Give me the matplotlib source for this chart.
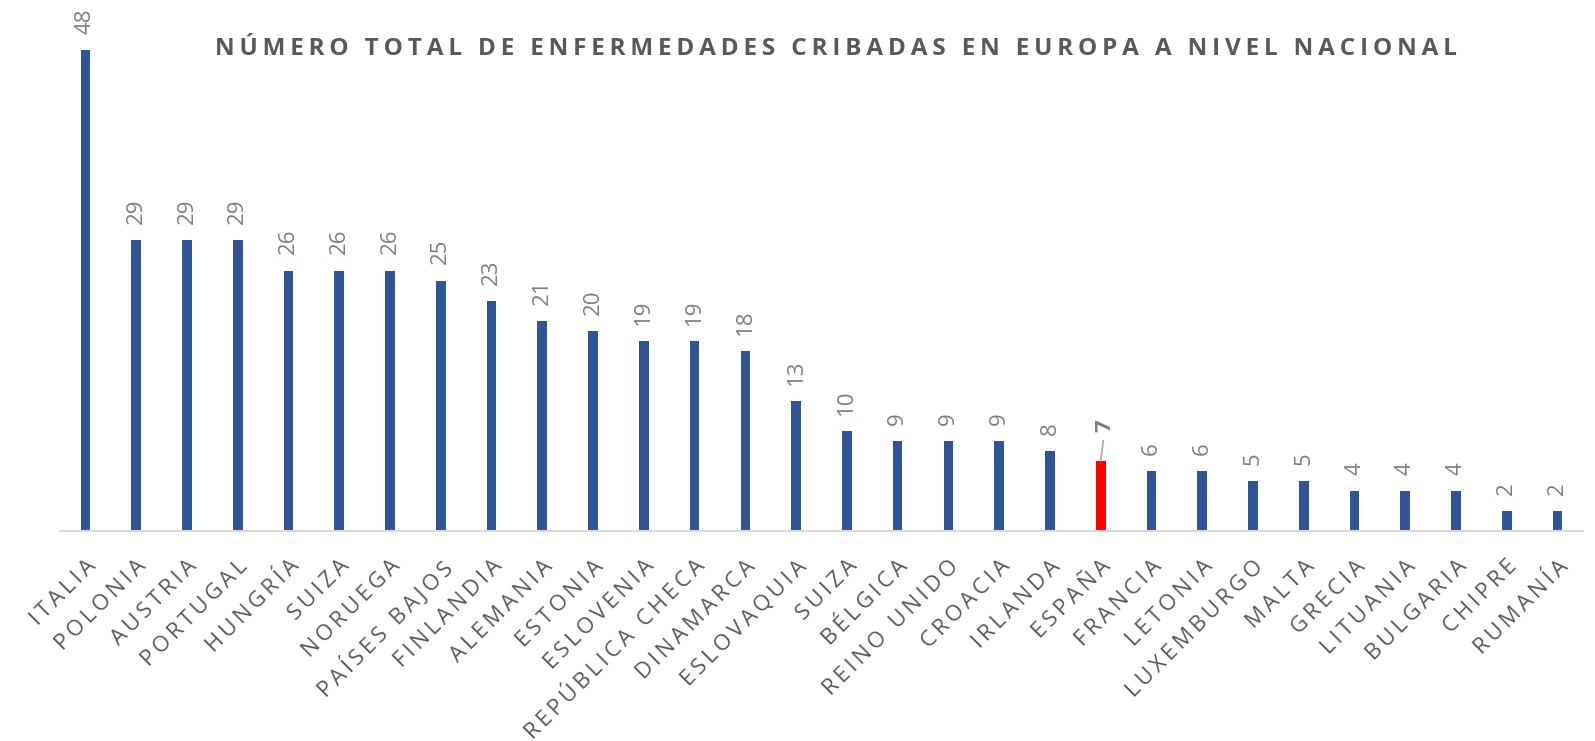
import matplotlib
matplotlib.use("Agg")
import matplotlib.pyplot as plt
import numpy as np

plt.rcParams['font.family'] = ['Open Sans', 'DejaVu Sans']

paises = ['ITALIA', 'POLONIA', 'AUSTRIA', 'PORTUGAL', 'HUNGRÍA', 'SUIZA', 'NORUEGA',
          'PAÍSES BAJOS', 'FINLANDIA', 'ALEMANIA', 'ESTONIA', 'ESLOVENIA',
          'REPÚBLICA CHECA', 'DINAMARCA', 'ESLOVAQUIA', 'SUIZA', 'BÉLGICA',
          'REINO UNIDO', 'CROACIA', 'IRLANDA', 'ESPAÑA', 'FRANCIA', 'LETONIA',
          'LUXEMBURGO', 'MALTA', 'GRECIA', 'LITUANIA', 'BULGARIA', 'CHIPRE', 'RUMANÍA']
enfermedades = [48, 29, 29, 29, 26, 26, 26, 25, 23, 21, 20, 19, 19, 18, 13, 10, 9, 9, 9,
                8, 7, 6, 6, 5, 5, 4, 4, 4, 2, 2]
destacado = 'ESPAÑA'

titulo = 'NÚMERO TOTAL DE ENFERMEDADES CRIBADAS EN EUROPA A NIVEL NACIONAL'

def espaciar(s, sep='\u2009'):
    # letter spacing imitation
    return sep.join(s)

azul = '#2F5597'
rojo = '#FF0000'
gris = '#595959'

fig = plt.figure(figsize=(15.95, 7.41), dpi=100)
ax = fig.add_axes([60/1595, 1 - 531/741, (1583 - 60)/1595, (531 - 10)/741])

x = np.arange(len(paises))
colores = [rojo if p == destacado else azul for p in paises]
ax.bar(x, enfermedades, width=0.19, color=colores, zorder=2)

ax.set_xlim(-0.5, len(paises) - 0.5)
ax.set_ylim(0, 52)
ax.set_yticks([])
for s in ['top', 'right', 'left']:
    ax.spines[s].set_visible(False)
ax.spines['bottom'].set_color('#D9D9D9')
ax.spines['bottom'].set_linewidth(1.5)

ax.set_xticks(x)
ax.set_xticklabels([espaciar(p) for p in paises], rotation=45, ha='right',
                   rotation_mode='anchor', fontsize=16, color=gris)
ax.tick_params(axis='x', length=0, pad=18)

for xi, v, p in zip(x, enfermedades, paises):
    if p == destacado:
        ax.plot([xi, xi + 0.05], [v, v + 2.0], color='#A6A6A6', lw=1.2, zorder=3)
        ax.text(xi + 0.08, v + 2.9, str(v), rotation=90, ha='center', va='bottom',
                fontsize=16, fontweight='bold', color='#7F7F7F')
    else:
        ax.text(xi, v + 1.6, str(v), rotation=90, ha='center', va='bottom',
                fontsize=16, color='#7F7F7F')

fig.text(836/1595, 1 - 49/741, espaciar(titulo), ha='center', va='center',
         fontsize=17.5, fontweight='bold', color=gris)

fig.savefig('out.png', dpi=100)
